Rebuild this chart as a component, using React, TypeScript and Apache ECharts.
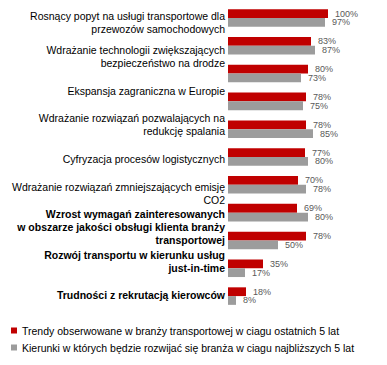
import React, { useEffect, useRef } from "react";
import * as echarts from "echarts";

const categoryLabels = [
  "Rosnący popyt na usługi transportowe dla\nprzewozów samochodowych",
  "Wdrażanie technologii zwiększających\nbezpieczeństwo na drodze",
  "Ekspansja zagraniczna w Europie",
  "Wdrażanie rozwiązań pozwalających na\nredukcję spalania",
  "Cyfryzacja procesów logistycznych",
  "Wdrażanie rozwiązań zmniejszających emisję\nCO2",
  "Wzrost wymagań zainteresowanych\nw obszarze jakości obsługi klienta branży\ntransportowej",
  "Rozwój transportu w kierunku usług\njust-in-time",
  "Trudności z rekrutacją kierowców",
];
const boldLabel = [false, false, false, false, false, false, true, true, true];

const barGroups = ["1", "2", "3", "4", "5", "6", "7", "8", "9", "10", "11"];
const seriesNames = [
  "Trendy obserwowane w branży transportowej w ciagu ostatnich 5 lat",
  "Kierunki w których będzie rozwijać się branża w ciagu najbliższych 5 lat",
];
const pastTrends = [100, 83, 80, 78, 78, 77, 70, 69, 78, 35, 18];
const futureDirections = [97, 87, 73, 75, 85, 80, 78, 80, 50, 17, 8];

const FONT = "'Liberation Sans', Arial, sans-serif";

export default function App() {
  const ref = useRef<HTMLDivElement>(null);
  useEffect(() => {
    if (!ref.current) return;
    const chart = echarts.init(ref.current, null, { renderer: "svg" });
    const labelStyle = {
      show: true,
      position: "right" as const,
      distance: 7,
      formatter: "{c}%",
      color: "#595959",
      fontSize: 9,
      lineHeight: 9,
      fontFamily: FONT,
    };
    chart.setOption({
      animation: false,
      textStyle: { fontFamily: FONT },
      grid: [
        { left: 228, width: 100, top: 4, height: 306, containLabel: false },
        { left: 228, width: 100, top: 5.5, height: 307, containLabel: false },
      ],
      xAxis: [
        { type: "value", min: 0, max: 100, show: false, gridIndex: 0 },
        { type: "value", min: 0, max: 100, show: false, gridIndex: 1 },
      ],
      yAxis: [
        {
          type: "category",
          gridIndex: 0,
          data: barGroups,
          inverse: true,
          axisLine: { show: false },
          axisTick: { show: false },
          axisLabel: { show: false },
          splitLine: { show: false },
        },
        {
          type: "category",
          gridIndex: 1,
          data: categoryLabels,
          inverse: true,
          position: "left",
          axisLine: { show: false },
          axisTick: { show: false },
          splitLine: { show: false },
          axisLabel: {
            margin: 3,
            interval: 0,
            align: "right",
            formatter: (v: string, i: number) =>
              boldLabel[i] ? `{b|${v}}` : `{n|${v}}`,
            rich: {
              n: { fontSize: 10.5, lineHeight: 13, color: "#000", fontFamily: FONT },
              b: {
                fontSize: 10.5,
                lineHeight: 13,
                color: "#000",
                fontWeight: "bold",
                fontFamily: FONT,
              },
            },
          },
        },
      ],
      legend: {
        orient: "vertical",
        left: 6,
        top: 320,
        itemWidth: 6,
        itemHeight: 6,
        itemGap: 6,
        icon: "rect",
        textStyle: { fontSize: 10.5, color: "#000", fontFamily: FONT },
        data: seriesNames,
      },
      series: [
        {
          name: seriesNames[0],
          type: "bar",
          xAxisIndex: 0,
          yAxisIndex: 0,
          data: pastTrends,
          itemStyle: { color: "#C00000" },
          barGap: "0%",
          barCategoryGap: "37%",
          label: labelStyle,
        },
        {
          name: seriesNames[1],
          type: "bar",
          xAxisIndex: 0,
          yAxisIndex: 0,
          data: futureDirections,
          itemStyle: { color: "#9C9C9C" },
          barGap: "0%",
          barCategoryGap: "37%",
          label: labelStyle,
        },
      ],
    });
    return () => chart.dispose();
  }, []);
  return (
    <div
      ref={ref}
      style={{ position: "absolute", left: 0, top: 0, width: 387, height: 365 }}
    />
  );
}
